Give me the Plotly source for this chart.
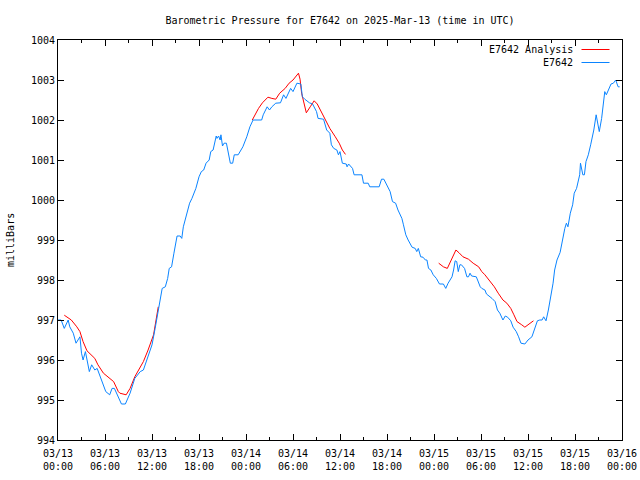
import plotly.graph_objects as go
import pandas as pd

start = pd.Timestamp("2025-03-13 00:00")

# Station observations (hours since 03/13 00:00 UTC, mbar)
obs_hours = [0.0, 0.4, 0.8, 1.3, 1.5, 1.95, 2.3, 2.8, 3.0, 3.2, 3.5, 4.0, 4.3, 4.7, 5.0, 5.4, 5.8, 6.1, 6.6, 6.9,
             7.2, 8.1, 8.6, 9.2, 9.8, 10.5, 10.9, 11.3, 12.0, 12.4, 12.8, 13.1, 13.3, 13.7, 14.0, 14.2, 14.5, 14.8,
             15.2, 15.6, 15.8, 16.0, 16.3, 16.8, 17.1, 17.6, 18.0, 18.3, 18.6, 18.9, 19.3, 19.5, 19.8, 20.2, 20.3,
             20.5, 20.7, 20.8, 21.0, 21.2, 21.5, 21.9, 22.0, 22.3, 22.5, 23.0, 23.6, 24.1, 24.5, 24.9, 26.0, 26.2,
             26.7, 27.0, 27.3, 27.8, 28.4, 28.8, 29.1, 29.7, 30.0, 30.5, 31.0, 31.2, 31.5, 32.1, 32.5, 33.0, 33.2,
             33.9, 34.3, 34.7, 34.9, 35.2, 35.6, 35.8, 36.0, 36.3, 36.8, 36.9, 37.1, 37.6, 37.8, 38.8, 39.0, 39.6,
             39.8, 41.0, 41.3, 41.6, 42.0, 42.4, 42.7, 43.1, 43.4, 43.9, 44.1, 44.4, 44.7, 45.2, 45.6, 45.8, 46.0,
             46.3, 46.6, 46.9, 47.1, 47.3, 47.6, 47.9, 48.3, 48.7, 49.2, 49.5, 49.8, 50.3, 50.5, 50.7, 50.9, 51.1,
             51.3, 51.5, 51.9, 52.2, 52.4, 52.6, 52.8, 53.4, 53.9, 54.1, 54.5, 54.7, 55.4, 55.8, 56.1, 56.4, 56.8,
             57.1, 57.4, 57.8, 58.1, 58.5, 58.8, 59.1, 59.6, 60.0, 60.5, 60.9, 61.2, 61.5, 61.8, 62.0, 62.3, 62.6,
             62.9, 63.2, 63.4, 63.7, 64.1, 64.4, 64.7, 64.9, 65.1, 65.4, 65.7, 65.9, 66.2, 66.6, 66.7, 67.0, 67.2,
             67.4, 67.7, 68.0, 68.4, 68.7, 68.9, 69.1, 69.4, 69.6, 69.8, 70.0, 70.3, 70.6, 70.9, 71.2, 71.5, 71.7]
obs_mbar = [997.0, 997.0, 996.79, 997.0, 996.83, 996.67, 996.42, 996.58, 996.17, 996.0, 996.21, 995.71, 995.88,
            995.75, 995.79, 995.58, 995.42, 995.21, 995.13, 995.29, 995.29, 994.9, 994.9, 995.17, 995.54, 995.71,
            995.75, 995.96, 996.38, 996.79, 997.21, 997.54, 997.79, 997.83, 998.04, 998.29, 998.33, 998.67, 999.1,
            999.1, 999.04, 999.33, 999.54, 999.92, 1000.04, 1000.29, 1000.58, 1000.71, 1000.75, 1000.92, 1001.0,
            1001.21, 1001.25, 1001.6, 1001.54, 1001.6, 1001.5, 1001.63, 1001.35, 1001.42, 1001.42, 1001.04,
            1000.92, 1000.92, 1001.13, 1001.13, 1001.33, 1001.58, 1001.83, 1002.0, 1002.0, 1002.13, 1002.33,
            1002.25, 1002.33, 1002.42, 1002.43, 1002.63, 1002.54, 1002.79, 1002.71, 1002.92, 1002.9, 1002.58,
            1002.52, 1002.43, 1002.4, 1002.21, 1002.04, 1002.02, 1001.75, 1001.67, 1001.38, 1001.29, 1001.25,
            1001.13, 1001.21, 1000.92, 1000.9, 1000.83, 1000.9, 1000.79, 1000.63, 1000.63, 1000.42, 1000.42,
            1000.33, 1000.33, 1000.52, 1000.52, 1000.38, 1000.21, 999.96, 999.92, 999.75, 999.54, 999.38, 999.13,
            999.0, 998.82, 998.79, 998.71, 998.79, 998.58, 998.57, 998.5, 998.5, 998.29, 998.25, 998.13, 998.04,
            997.9, 997.9, 997.79, 997.92, 998.08, 998.25, 998.48, 998.46, 998.21, 998.38, 998.38, 998.29, 998.08,
            998.08, 998.17, 998.1, 998.08, 997.83, 997.79, 997.75, 997.65, 997.54, 997.46, 997.25, 997.17, 997.0,
            997.1, 997.07, 996.98, 996.82, 996.71, 996.58, 996.42, 996.4, 996.5, 996.58, 996.79, 996.98, 997.0,
            997.0, 997.08, 996.98, 997.25, 997.54, 997.92, 998.25, 998.5, 998.69, 999.04, 999.29, 999.42, 999.33,
            999.67, 999.88, 1000.17, 1000.29, 1000.63, 1000.92, 1000.63, 1000.63, 1000.96, 1001.13, 1001.38,
            1001.75, 1002.13, 1001.88, 1001.71, 1002.04, 1002.33, 1002.71, 1002.63, 1002.79, 1002.9, 1002.92,
            1003.0, 1002.83, 1002.83]

# Analysis (three separate runs; None marks the gaps)
ana_hours = [0.8, 1.7, 2.4, 2.8, 3.2, 3.7, 4.7, 5.1, 5.8, 6.6, 7.1, 7.7, 7.9, 8.7, 9.2, 9.8, 10.3, 10.9, 11.5, 12.2,
             12.8, None,
             24.8, 25.2, 25.6, 26.1, 26.8, 27.3, 27.8, 28.3, 29.0, 29.5, 30.0, 30.7, 30.9, 31.1, 31.4, 31.7, 32.2,
             32.7, 33.1, 33.5, 34.1, 34.7, 35.4, 35.9, 36.3, 36.7, None,
             48.6, 49.2, 49.7, 50.3, 50.8, 51.2, 51.7, 52.4, 53.0, 53.7, 54.1, 54.5, 55.2, 55.7, 56.2, 56.8, 57.3,
             57.8, 58.2, 58.6, 59.2, 59.6, 60.0, 60.7]
ana_mbar = [997.12, 997.0, 996.83, 996.71, 996.46, 996.23, 996.04, 995.88, 995.67, 995.54, 995.46, 995.21, 995.17,
            995.13, 995.29, 995.58, 995.75, 995.96, 996.25, 996.63, 997.33, None,
            1002.0, 1002.15, 1002.29, 1002.43, 1002.57, 1002.54, 1002.52, 1002.67, 1002.79, 1002.92, 1003.0,
            1003.17, 1003.02, 1002.67, 1002.38, 1002.18, 1002.33, 1002.48, 1002.4, 1002.25, 1002.04, 1001.79,
            1001.58, 1001.42, 1001.25, 1001.14, None,
            998.42, 998.33, 998.29, 998.54, 998.75, 998.68, 998.58, 998.52, 998.42, 998.33, 998.21, 998.13, 997.96,
            997.83, 997.67, 997.5, 997.42, 997.29, 997.13, 996.96, 996.88, 996.82, 996.88, 996.98]

series_names = ["E7642 Analysis", "E7642"]
series_colors = ["#ff0000", "#0a84ff"]


def to_time(hours):
    return [None if h is None else start + pd.Timedelta(hours=h) for h in hours]


FONT = "DejaVu Sans Mono"

fig = go.Figure()
fig.add_trace(go.Scatter(x=to_time(ana_hours), y=ana_mbar, mode="lines", name=series_names[0],
                         line=dict(color=series_colors[0], width=1), connectgaps=False))
fig.add_trace(go.Scatter(x=to_time(obs_hours), y=obs_mbar, mode="lines", name=series_names[1],
                         line=dict(color=series_colors[1], width=1)))

W, H = 640, 480
L, T, R, B = 58, 40, 18, 40
pw, ph = W - L - R, H - T - B

fig.update_layout(
    width=W, height=H,
    margin=dict(l=L, r=R, t=T, b=B, autoexpand=False),
    paper_bgcolor="white", plot_bgcolor="white",
    showlegend=False,
    hovermode=False,
    font=dict(family=FONT, size=10, color="black"),
    title=dict(text="Barometric Pressure for E7642 on 2025-Mar-13 (time in UTC)",
               x=340 / W, xanchor="center", y=1 - 20 / H, yanchor="middle", yref="container",
               automargin=False,
               font=dict(family=FONT, size=10, color="black")),
    xaxis=dict(
        type="date", automargin=False,
        range=[start, start + pd.Timedelta(hours=72)],
        tickmode="linear", tick0=start, dtick=6 * 3600 * 1000,
        tickformat="%m/%d<br>%H:%M",
        ticks="inside", ticklen=6, tickcolor="black", ticklabelstandoff=4,
        minor=dict(dtick=3 * 3600 * 1000, ticks="inside", ticklen=3, tickcolor="black"),
        showline=True, linecolor="black", linewidth=1, mirror="ticks",
        showgrid=False, zeroline=False,
        tickfont=dict(family=FONT, size=10),
    ),
    yaxis=dict(
        range=[994, 1004], dtick=1, tick0=994, automargin=False,
        ticks="inside", ticklen=6, tickcolor="black",
        showline=True, linecolor="black", linewidth=1, mirror="ticks",
        showgrid=False, zeroline=False,
        tickfont=dict(family=FONT, size=10),
    ),
)

# y-axis title, placed where gnuplot puts it
fig.add_annotation(x=(10 - L) / pw, y=0.5, xref="paper", yref="paper", text="milliBars",
                   textangle=-90, showarrow=False, xanchor="center", yanchor="middle",
                   font=dict(family=FONT, size=10, color="black"))

# Legend drawn gnuplot-style (text right-aligned, sample line on the right)
leg_rows = [49.5, 62.5]
for name, color, ypx in zip(series_names, series_colors, leg_rows):
    yp = 1 - (ypx - T) / ph
    fig.add_annotation(x=(574.5 - L) / pw, y=yp, xref="paper", yref="paper", text=name,
                       showarrow=False, xanchor="right", yanchor="middle",
                       font=dict(family=FONT, size=10, color="black"))
    fig.add_shape(type="line", xref="paper", yref="paper",
                  x0=(581.5 - L) / pw, x1=(609.5 - L) / pw, y0=yp, y1=yp,
                  line=dict(color=color, width=1))

# Remove the browser's default 8px body margin so the 640x480 figure fills the window
fig.write_html("out.html",
               config={"displayModeBar": False, "staticPlot": True},
               post_script="document.body.style.margin='0';document.body.style.overflow='hidden';")
